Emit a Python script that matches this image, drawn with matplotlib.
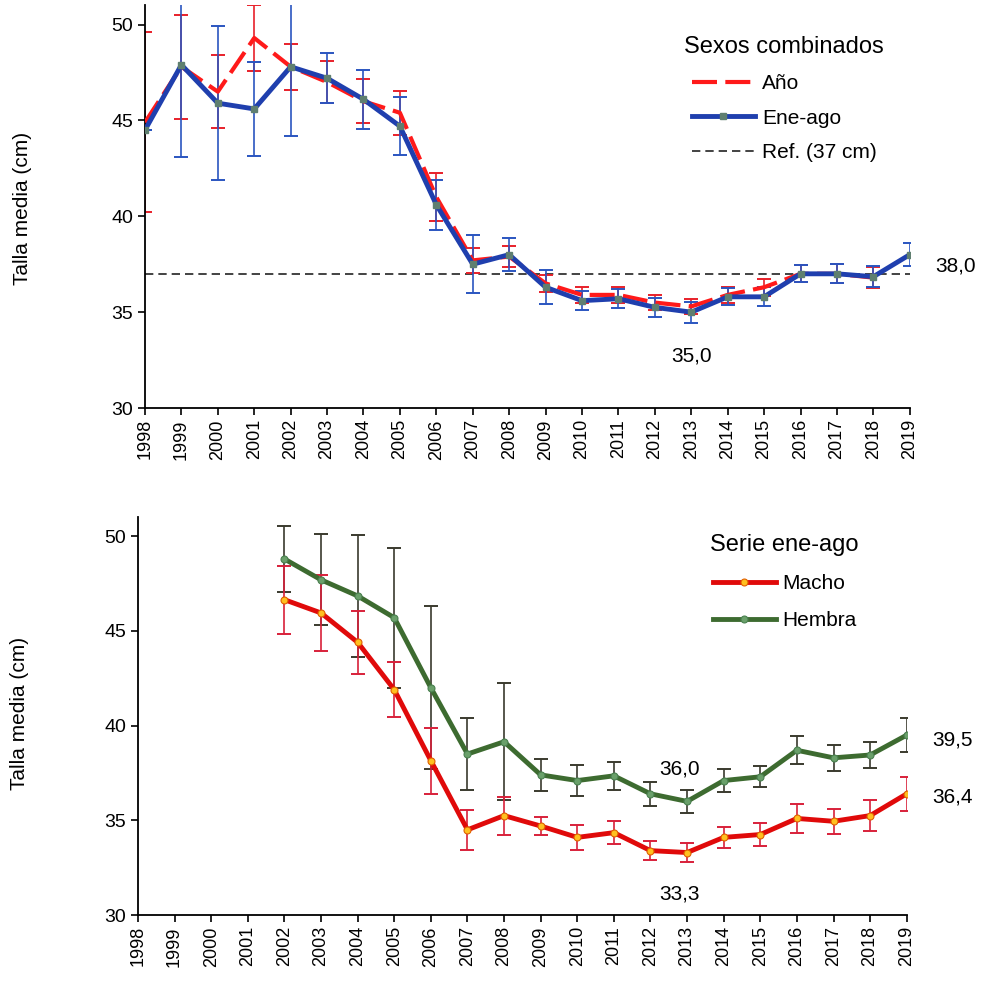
import numpy as np
import matplotlib
matplotlib.use("Agg")
import matplotlib.pyplot as plt

plt.rcParams['font.family'] = ['Liberation Sans', 'DejaVu Sans']

years = list(range(1998, 2020))

# panel 1: sexos combinados
ano = [44.9, 47.8, 46.5, 49.3, 47.8, 47.0, 46.0, 45.4, 41.0, 37.7, 37.9, 36.5, 35.9,
       35.9, 35.5, 35.3, 35.9, 36.3, 37.0, 37.0, 36.8, np.nan]
ano_err = [4.7, 2.7, 1.9, 1.7, 1.2, 1.1, 1.15, 1.15, 1.25, 0.65, 0.55, 0.45, 0.4,
           0.4, 0.4, 0.4, 0.4, 0.45, 0.45, 0.5, 0.55, np.nan]
enea = [44.5, 47.9, 45.9, 45.6, 47.8, 47.2, 46.1, 44.7, 40.6, 37.5, 38.0, 36.3, 35.6,
        35.7, 35.25, 35.0, 35.8, 35.8, 37.0, 37.0, 36.85, 38.0]
enea_err = [0, 4.8, 4.0, 2.45, 3.6, 1.3, 1.55, 1.5, 1.3, 1.5, 0.85, 0.9, 0.5,
            0.5, 0.5, 0.55, 0.45, 0.5, 0.45, 0.5, 0.55, 0.6]
ref_value = 37

# panel 2: serie ene-ago por sexo
years_sex = list(range(2002, 2020))
macho = [46.65, 45.95, 44.4, 41.9, 38.15, 34.5, 35.25, 34.7, 34.1, 34.35, 33.4, 33.3,
         34.1, 34.25, 35.1, 34.95, 35.25, 36.4]
macho_err = [1.8, 2.0, 1.65, 1.45, 1.75, 1.05, 1.0, 0.5, 0.65, 0.6, 0.5, 0.5,
             0.55, 0.6, 0.75, 0.65, 0.8, 0.9]
hembra = [48.8, 47.7, 46.85, 45.7, 42.0, 38.5, 39.15, 37.4, 37.1, 37.35, 36.4, 36.0,
          37.1, 37.3, 38.7, 38.3, 38.45, 39.5]
hembra_err = [1.75, 2.4, 3.2, 3.7, 4.3, 1.9, 3.1, 0.85, 0.8, 0.75, 0.65, 0.6,
              0.6, 0.55, 0.75, 0.7, 0.7, 0.9]


def style_axes(ax):
    ax.set_xlim(1998, 2019)
    ax.set_ylim(30, 51)
    ax.set_yticks([30, 35, 40, 45, 50])
    ax.set_xticks(years)
    ax.set_xticklabels([str(y) for y in years], rotation=90, fontsize=13)
    ax.tick_params(axis='y', labelsize=14, length=5, width=1.2)
    ax.tick_params(axis='x', length=5, width=1.2, pad=3)
    for s in ['top', 'right']:
        ax.spines[s].set_visible(False)
    for s in ['left', 'bottom']:
        ax.spines[s].set_linewidth(1.3)


fig = plt.figure(figsize=(9.83, 9.82), dpi=100)

# ---- top panel
ax1 = fig.add_axes([0.1475, 0.5845, 0.778, 0.41])
ax1.errorbar(years, ano, yerr=ano_err, fmt='none', ecolor='#e8202a', elinewidth=1.2,
             capsize=5, capthick=1.4, zorder=2)
ax1.errorbar(years, enea, yerr=enea_err, fmt='none', ecolor='#2a55c0', elinewidth=1.2,
             capsize=5, capthick=1.4, zorder=3)
ax1.plot([1998, 2019], [ref_value, ref_value], color='#222222', lw=1.2,
         dashes=(5, 3), label='Ref. (37 cm)', zorder=1)
ax1.plot(years, ano, color='#ff1a1a', lw=3, dashes=(6, 2), label='Año', zorder=4)
ax1.plot(years, enea, color='#1f3fae', lw=3.5, marker='s', markersize=5,
         markerfacecolor='#5f7f70', markeredgecolor='#5f7f70', label='Ene-ago', zorder=5)
style_axes(ax1)
h, l = ax1.get_legend_handles_labels()
order = [1, 2, 0]
ax1.legend([h[i] for i in order], [l[i] for i in order], title='Sexos combinados',
           frameon=False, fontsize=15, title_fontsize=17, loc='upper left',
           bbox_to_anchor=(674 / 983, 1 - 26 / 982), bbox_transform=fig.transFigure,
           handlelength=3.0, handletextpad=0.35, labelspacing=0.75, borderpad=0)
ax1.text(2019.7, 37.4, '38,0', fontsize=15, va='center', ha='left')
ax1.text(2013, 32.7, '35,0', fontsize=15, va='center', ha='center')
fig.text(23 / 983, 1 - 208 / 982, 'Talla media (cm)', rotation=90, fontsize=15,
         ha='center', va='center')

# ---- bottom panel
ax2 = fig.add_axes([0.1404, 0.0682, 0.782, 0.405])
ax2.errorbar(years_sex, hembra, yerr=hembra_err, fmt='none', ecolor='#3a3a2e', elinewidth=1.2,
             capsize=5, capthick=1.4, zorder=2)
ax2.errorbar(years_sex, macho, yerr=macho_err, fmt='none', ecolor='#d8203a', elinewidth=1.2,
             capsize=5, capthick=1.4, zorder=3)
ax2.plot(years_sex, macho, color='#e00a0a', lw=3.5, marker='o', markersize=5,
         markerfacecolor='#ffc020', markeredgecolor='#e06000', markeredgewidth=0.8,
         label='Macho', zorder=5)
ax2.plot(years_sex, hembra, color='#3d6b30', lw=3.5, marker='o', markersize=5,
         markerfacecolor='#6aa06a', markeredgecolor='#4a8050', markeredgewidth=0.8,
         label='Hembra', zorder=4)
style_axes(ax2)
ax2.legend(title='Serie ene-ago', frameon=False, fontsize=15, title_fontsize=17,
           loc='upper left', bbox_to_anchor=(700 / 983, 1 - 524 / 982),
           bbox_transform=fig.transFigure, handlelength=3.0, handletextpad=0.3,
           labelspacing=0.85, borderpad=0)
ax2.text(2019.7, 39.25, '39,5', fontsize=15, va='center', ha='left')
ax2.text(2019.7, 36.25, '36,4', fontsize=15, va='center', ha='left')
ax2.text(2012.8, 37.7, '36,0', fontsize=15, va='center', ha='center')
ax2.text(2012.8, 31.1, '33,3', fontsize=15, va='center', ha='center')
fig.text(20 / 983, 1 - 713 / 982, 'Talla media (cm)', rotation=90, fontsize=15,
         ha='center', va='center')

fig.savefig('out.png', dpi=100)
